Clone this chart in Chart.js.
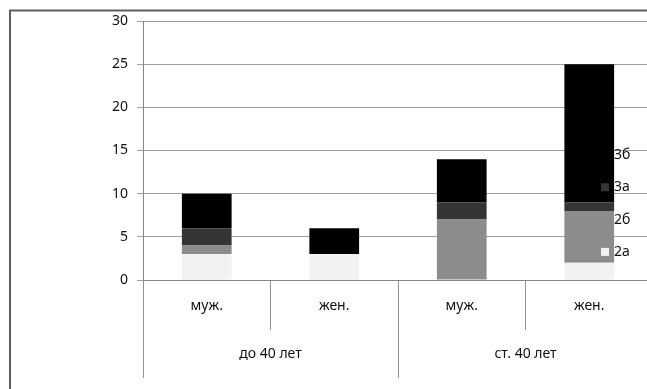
<!DOCTYPE html>
<html>
<head>
<meta charset="utf-8">
<script src="https://cdn.jsdelivr.net/npm/chart.js@4/dist/chart.umd.min.js"></script>
<style>
  html, body { margin: 0; padding: 0; background: #fff; overflow: hidden; }
  #wrap { position: relative; width: 660px; height: 389px; }
</style>
</head>
<body>
<div id="wrap"><canvas id="c"></canvas></div>
<script>
// Sub-categories (sex) and their age groups
const categories = ['муж.', 'жен.', 'муж.', 'жен.'];
const groups = ['до 40 лет', 'ст. 40 лет'];

// Series values per category
const seriesNames = ['2а', '2б', '3а', '3б'];
const s2a = [3, 3, 0, 2];
const s2b = [1, 0, 7, 6];
const s3a = [2, 0, 2, 1];
const s3b = [4, 3, 5, 16];
const seriesColors = ['#f2f2f2', '#8c8c8c', '#353535', '#000000'];

const yTicks = [0, 5, 10, 15, 20, 25, 30];

const FONT = { family: '"Noto Sans", "DejaVu Sans", sans-serif', size: 14 };
const TEXT = '#111111';

// Outer frame (top and left edges)
const framePlugin = {
  id: 'frame',
  beforeDraw(chart) {
    const ctx = chart.ctx;
    ctx.save();
    ctx.strokeStyle = '#5e5e5e';
    ctx.lineWidth = 2;
    ctx.beginPath();
    ctx.moveTo(10, chart.height);
    ctx.lineTo(10, 10.5);
    ctx.lineTo(chart.width, 10.5);
    ctx.stroke();
    ctx.restore();
  }
};

// Legend drawn inside the plot area, listed in reverse stacking order
const innerLegend = {
  id: 'innerLegend',
  afterDraw(chart) {
    const ctx = chart.ctx;
    const x = 601, y0 = 155, step = 32.3;
    ctx.save();
    ctx.font = FONT.size + 'px ' + FONT.family;
    ctx.textBaseline = 'middle';
    ctx.textAlign = 'left';
    const items = chart.data.datasets.map(d => ({ label: d.label, color: d.backgroundColor })).reverse();
    items.forEach((it, i) => {
      const y = y0 + i * step;
      ctx.fillStyle = it.color;
      ctx.fillRect(x, y - 4, 8, 8);
      ctx.fillStyle = TEXT;
      ctx.fillText(it.label, x + 13, y);
    });
    ctx.restore();
  }
};

const values = [s2a, s2b, s3a, s3b];
const datasets = seriesNames.map((name, i) => ({
  label: name,
  data: values[i],
  backgroundColor: seriesColors[i],
  borderWidth: 0,
  barPercentage: 0.39,
  categoryPercentage: 1.0
}));

new Chart(document.getElementById('c'), {
  type: 'bar',
  data: { labels: categories, datasets },
  options: {
    responsive: true,
    maintainAspectRatio: false,
    animation: false,
    layout: { padding: { left: 0, right: 7, top: 21, bottom: 11 } },
    plugins: { legend: { display: false }, tooltip: { enabled: false } },
    scales: {
      y: {
        stacked: true,
        min: 0,
        max: 30,
        afterBuildTicks(scale) { scale.ticks = yTicks.map(v => ({ value: v })); },
        afterFit(scale) { scale.width = 143; },
        ticks: { color: TEXT, font: FONT, padding: 9 },
        grid: { color: '#a0a0a0', tickLength: 6, lineWidth: 1 },
        border: { color: '#858585' }
      },
      x: {
        stacked: true,
        afterFit(scale) { scale.height = 50; },
        ticks: { color: TEXT, font: FONT, padding: -32, maxRotation: 0, autoSkip: false },
        grid: { offset: true, drawOnChartArea: false, tickLength: 50, color: '#959595' },
        border: { color: '#858585' }
      },
      x2: {
        type: 'category',
        position: 'bottom',
        labels: groups,
        offset: true,
        afterFit(scale) { scale.height = 48; },
        ticks: { color: TEXT, font: FONT, padding: -32, maxRotation: 0, autoSkip: false },
        grid: { offset: true, drawOnChartArea: false, tickLength: 48, color: '#959595' },
        border: { display: false }
      }
    }
  },
  plugins: [framePlugin, innerLegend]
});
</script>
</body>
</html>
